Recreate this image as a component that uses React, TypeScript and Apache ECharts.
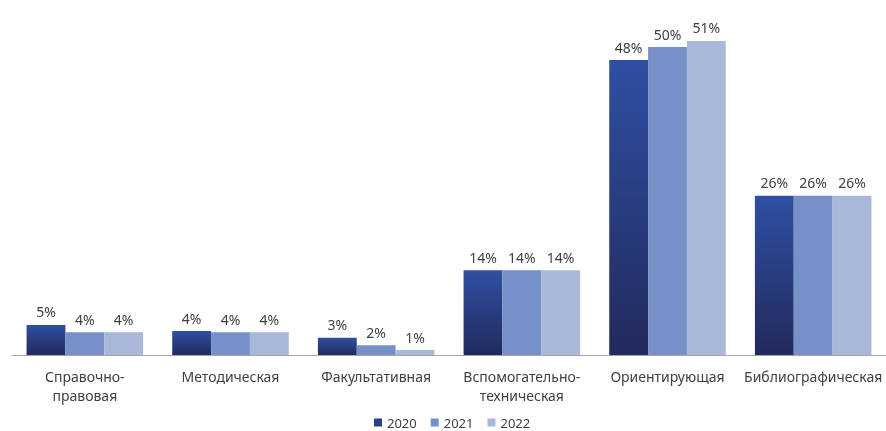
import React, { useEffect, useRef } from "react";
import * as echarts from "echarts";

const categories = [
  "Справочно-\nправовая",
  "Методическая",
  "Факультативная",
  "Вспомогательно-\nтехническая",
  "Ориентирующая",
  "Библиографическая",
];
const seriesNames = ["2020", "2021", "2022"];
const values2020 = [4.9, 3.9, 2.8, 13.8, 48.0, 25.9];
const values2021 = [3.7, 3.7, 1.6, 13.8, 50.1, 25.9];
const values2022 = [3.7, 3.7, 0.8, 13.8, 51.1, 25.9];

const FONT = "'Noto Sans', 'Open Sans', sans-serif";

export default function App() {
  const ref = useRef<HTMLDivElement>(null);
  useEffect(() => {
    if (!ref.current) return;
    const chart = echarts.init(ref.current, null, { renderer: "svg" });
    const label = {
      show: true,
      position: "top",
      distance: 6,
      color: "#404040",
      fontSize: 14,
      fontFamily: FONT,
      formatter: (p: any) => Math.round(p.value) + "%",
    };
    const colors = [
      new echarts.graphic.LinearGradient(0, 0, 0, 1, [
        { offset: 0, color: "#2F4FA3" },
        { offset: 1, color: "#222A5C" },
      ]),
      "#7591C8",
      "#A9B8D9",
    ];
    const data = [values2020, values2021, values2022];
    chart.setOption({
      animation: false,
      grid: { left: 12, right: -5, top: 17, bottom: 76 },
      legend: {
        left: 374,
        top: 416,
        padding: 0,
        itemWidth: 8,
        itemHeight: 8,
        itemGap: 14,
        icon: "rect",
        textStyle: { color: "#404040", fontSize: 13, fontFamily: FONT },
        data: seriesNames.map((n, i) => ({
          name: n,
          itemStyle: { color: i === 0 ? "#2A3F86" : colors[i] },
        })),
      },
      xAxis: {
        type: "category",
        data: categories,
        axisLine: { lineStyle: { color: "#A6A6A6", width: 1 } },
        axisTick: { show: false },
        axisLabel: {
          color: "#404040",
          fontSize: 14,
          fontFamily: FONT,
          margin: 12,
          lineHeight: 19,
          interval: 0,
        },
      },
      yAxis: { type: "value", min: 0, max: 55, show: false, splitLine: { show: false } },
      series: seriesNames.map((n, i) => ({
        name: n,
        type: "bar",
        data: data[i],
        barGap: "0%",
        barCategoryGap: "20%",
        itemStyle: { color: colors[i] },
        label,
      })),
    });
    return () => chart.dispose();
  }, []);
  return (
    <div
      ref={ref}
      style={{ position: "fixed", left: 0, top: 0, width: 886, height: 431 }}
    />
  );
}
